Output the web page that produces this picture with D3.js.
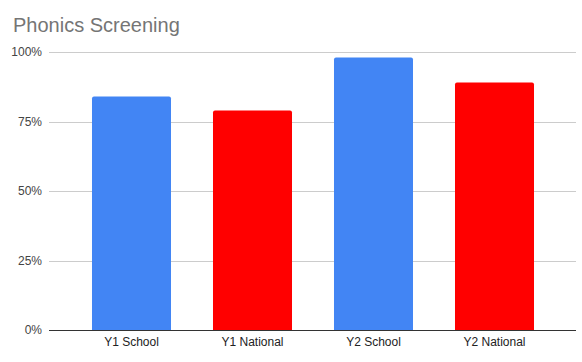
<!DOCTYPE html>
<html>
<head>
<meta charset="utf-8">
<script src="https://d3js.org/d3.v7.min.js"></script>
<style>
body { margin: 0; background: #fff; }
text { font-family: "Liberation Sans", Arial, sans-serif; }
</style>
</head>
<body>
<svg id="chart"></svg>
<script>
// chart data
var categories = ["Y1 School", "Y1 National", "Y2 School", "Y2 National"];
var values = [0.84, 0.79, 0.98, 0.89];
var barColors = ["#4285f4", "#ff0000", "#4285f4", "#ff0000"];
var yTicks = [0, 0.25, 0.5, 0.75, 1];

var width = 582, height = 362;
var svg = d3.select("#chart").attr("width", width).attr("height", height);

// title
svg.append("text")
    .attr("x", 13)
    .attr("y", 32)
    .style("font-size", "20px")
    .style("fill", "#757575")
    .text("Phonics Screening");

var plotLeft = 49, plotRight = 576;
var y = d3.scaleLinear().domain([0, 1]).range([330, 52]);
var x = d3.scaleBand().domain(categories).range([71, 555])
    .paddingInner(0.347).paddingOuter(0.1735);

// gridlines
svg.append("g").selectAll("line")
    .data(yTicks.filter(function (d) { return d > 0; }))
    .enter().append("line")
    .attr("x1", plotLeft).attr("x2", plotRight)
    .attr("y1", function (d) { return Math.round(y(d)) + 0.5; })
    .attr("y2", function (d) { return Math.round(y(d)) + 0.5; })
    .style("stroke", "#cccccc");

// y tick labels
svg.append("g").selectAll("text")
    .data(yTicks)
    .enter().append("text")
    .attr("x", 42)
    .attr("y", function (d) { return y(d); })
    .attr("dy", "0.35em")
    .attr("text-anchor", "end")
    .style("font-size", "12px")
    .style("fill", "#444")
    .text(function (d) { return d3.format(".0%")(d); });

// bars with slightly rounded tops
var r = 2;
svg.append("g").selectAll("path")
    .data(values)
    .enter().append("path")
    .attr("d", function (d, i) {
        var x0 = x(categories[i]), w = x.bandwidth();
        var top = y(d), bot = y(0);
        return "M" + x0 + "," + bot +
            "V" + (top + r) +
            "Q" + x0 + "," + top + " " + (x0 + r) + "," + top +
            "H" + (x0 + w - r) +
            "Q" + (x0 + w) + "," + top + " " + (x0 + w) + "," + (top + r) +
            "V" + bot + "Z";
    })
    .style("fill", function (d, i) { return barColors[i]; });

// baseline
svg.append("line")
    .attr("x1", plotLeft).attr("x2", plotRight)
    .attr("y1", Math.round(y(0)) + 0.5).attr("y2", Math.round(y(0)) + 0.5)
    .style("stroke", "#333");

// x labels
svg.append("g").selectAll("text")
    .data(categories)
    .enter().append("text")
    .attr("x", function (d) { return x(d) + x.bandwidth() / 2; })
    .attr("y", 346)
    .attr("text-anchor", "middle")
    .style("font-size", "12px")
    .style("fill", "#222")
    .text(function (d) { return d; });
</script>
</body>
</html>
